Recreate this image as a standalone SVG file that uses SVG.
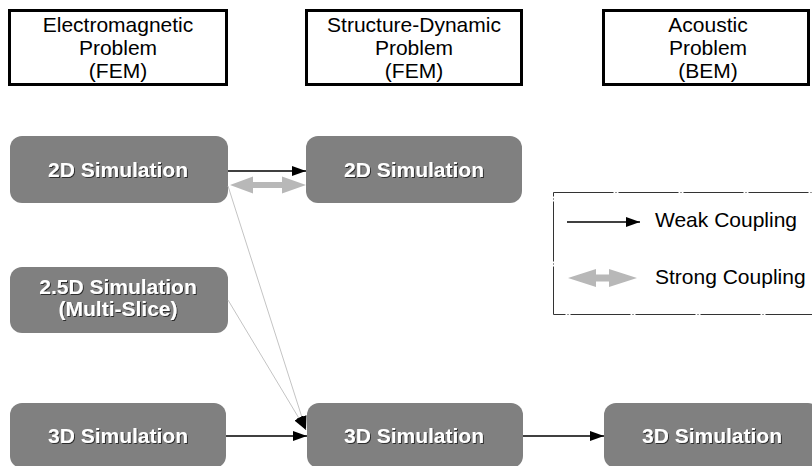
<svg xmlns="http://www.w3.org/2000/svg" width="812" height="466" viewBox="0 0 812 466">
<style>
.hbox{fill:#fff;stroke:#000;stroke-width:3}
.htxt{font-family:"Liberation Sans",Arial,sans-serif;font-size:21px;fill:#000;text-anchor:middle}
.node{fill:#808080}
.ntxt{font-family:"Liberation Sans",Arial,sans-serif;font-size:21px;font-weight:bold;fill:#fff;text-anchor:middle;filter:url(#sh)}
.weak{stroke:#000;stroke-width:1.3;fill:none}
.thin{stroke:#c4c4c4;stroke-width:1;fill:none}
.strong{fill:#b8b8b8}
.ltxt{font-family:"Liberation Sans",Arial,sans-serif;font-size:21px;fill:#000}
</style>
<defs>
<filter id="sh" x="-10%" y="-30%" width="120%" height="160%">
<feDropShadow dx="1" dy="1" stdDeviation="0.4" flood-color="#222" flood-opacity="0.9"/>
</filter>
<marker id="ah" viewBox="0 0 14 10" refX="14" refY="5" markerWidth="14" markerHeight="10" markerUnits="userSpaceOnUse" orient="auto">
<path d="M0,0 L14,5 L0,10 z" fill="#000"/>
</marker>
</defs>
<rect width="812" height="466" fill="#fff"/>

<g id="h-em"><rect class="hbox" x="9.5" y="10.5" width="217" height="74"/>
<text class="htxt" x="118" y="32">Electromagnetic</text><text class="htxt" x="118" y="55">Problem</text><text class="htxt" x="118" y="78">(FEM)</text></g>
<g id="h-sd"><rect class="hbox" x="306.5" y="10.5" width="215" height="74"/>
<text class="htxt" x="414" y="32">Structure-Dynamic</text><text class="htxt" x="414" y="55">Problem</text><text class="htxt" x="414" y="78">(FEM)</text></g>
<g id="h-ac"><rect class="hbox" x="603.5" y="10.5" width="205" height="74"/>
<text class="htxt" x="708" y="32">Acoustic</text><text class="htxt" x="708" y="55">Problem</text><text class="htxt" x="708" y="78">(BEM)</text></g>

<g id="em2d"><rect class="node" x="10" y="136" width="218" height="67" rx="12"/><text class="ntxt" x="118" y="177">2D Simulation</text></g>
<g id="sd2d"><rect class="node" x="306" y="136" width="216" height="67" rx="12"/><text class="ntxt" x="414" y="177">2D Simulation</text></g>
<g id="em25d"><rect class="node" x="10" y="267" width="218" height="66" rx="12"/><text class="ntxt" x="118" y="294" font-size="20">2.5D Simulation</text><text class="ntxt" x="118" y="316" font-size="20">(Multi-Slice)</text></g>
<g id="em3d"><rect class="node" x="10" y="403" width="216" height="65" rx="12"/><text class="ntxt" x="118" y="443">3D Simulation</text></g>
<g id="sd3d"><rect class="node" x="307" y="403" width="216" height="65" rx="12"/><text class="ntxt" x="414" y="443">3D Simulation</text></g>
<g id="ac3d"><rect class="node" x="604" y="403" width="216" height="65" rx="12"/><text class="ntxt" x="712" y="443">3D Simulation</text></g>

<g id="connectors">
<line class="weak" x1="228" y1="171" x2="306" y2="171" marker-end="url(#ah)"/>
<path class="strong" d="M230,185 L253,176.5 L253,182 L282,182 L282,176.5 L306,185 L282,193.5 L282,188 L253,188 L253,193.5 z"/>
<line class="thin" x1="228" y1="186" x2="306" y2="430" marker-end="url(#ah)"/>
<line class="thin" x1="228" y1="300" x2="306" y2="430" marker-end="url(#ah)"/>
<line class="weak" x1="226" y1="436" x2="307" y2="436" marker-end="url(#ah)"/>
<line class="weak" x1="523" y1="436" x2="604" y2="436" marker-end="url(#ah)"/>
</g>

<g id="legend">
<rect x="553.5" y="192.5" width="270" height="122" fill="none" stroke="#333" stroke-width="1" stroke-dasharray="60,2,1,2"/>
<line class="weak" x1="567" y1="222" x2="640" y2="222" marker-end="url(#ah)"/>
<text class="ltxt" x="655" y="227">Weak Coupling</text>
<path class="strong" d="M568,278 L596,269 L596,274.5 L609,274.5 L609,269 L637,278 L609,287 L609,281.5 L596,281.5 L596,287 z"/>
<text class="ltxt" x="655" y="284">Strong Coupling</text>
</g>
</svg>
